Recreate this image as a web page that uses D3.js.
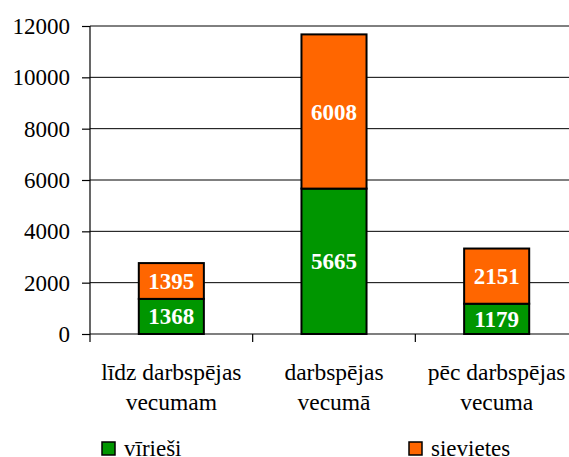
<!DOCTYPE html>
<html>
<head>
<meta charset="utf-8">
<script src="https://cdn.jsdelivr.net/npm/d3@7"></script>
<style>
  html, body { margin: 0; padding: 0; background: #fff; }
  svg { display: block; overflow: hidden; }
</style>
</head>
<body>
<svg id="chart" width="569" height="457"></svg>
<script>
// Categories (each label split into two lines) and the two stacked series.
var categories = ['līdz darbspējas vecumam', 'darbspējas vecumā', 'pēc darbspējas vecuma'];
var categoryLines = [['līdz darbspējas', 'vecumam'], ['darbspējas', 'vecumā'], ['pēc darbspējas', 'vecuma']];
var seriesNames = ['vīrieši', 'sievietes'];
var men = [1368, 5665, 1179];
var women = [1395, 6008, 2151];
var yTicks = [0, 2000, 4000, 6000, 8000, 10000, 12000];
var seriesColors = ['#009600', '#ff6600'];

var serif = '"Liberation Serif", "Times New Roman", serif';
var svg = d3.select('#chart').style('font-family', serif);
var plotLeft = 90, plotRight = 578, plotTop = 26, plotBottom = 334;

var x = d3.scaleBand()
  .domain(categories)
  .range([plotLeft, plotRight])
  .paddingInner(0.6)
  .paddingOuter(0.3);

var y = d3.scaleLinear()
  .domain([0, 12000])
  .range([plotBottom, plotTop]);

// Gridlines.
svg.append('g')
  .selectAll('line')
  .data(yTicks.slice(1))
  .enter().append('line')
    .attr('x1', plotLeft).attr('x2', plotRight)
    .attr('y1', function(d) { return y(d); })
    .attr('y2', function(d) { return y(d); })
    .attr('stroke', '#000').attr('stroke-width', 1);

// Stack the data.
var table = categories.map(function(c, i) {
  return { cat: c, 'vīrieši': men[i], 'sievietes': women[i] };
});
var stacked = d3.stack().keys(seriesNames)(table);

var layers = svg.append('g')
  .selectAll('g')
  .data(stacked)
  .enter().append('g')
    .attr('fill', function(d, i) { return seriesColors[i]; });

layers.selectAll('rect')
  .data(function(d) { return d; })
  .enter().append('rect')
    .attr('x', function(d) { return x(d.data.cat); })
    .attr('width', x.bandwidth())
    .attr('y', function(d) { return y(d[1]); })
    .attr('height', function(d) { return y(d[0]) - y(d[1]); })
    .attr('stroke', '#000')
    .attr('stroke-width', 2);

// Value labels inside each segment.
layers.selectAll('text')
  .data(function(d) { return d; })
  .enter().append('text')
    .attr('x', function(d) { return x(d.data.cat) + x.bandwidth() / 2; })
    .attr('y', function(d) { return (y(d[0]) + y(d[1])) / 2; })
    .attr('dy', '0.35em')
    .attr('text-anchor', 'middle')
    .attr('fill', '#fff')
    .attr('font-weight', 'bold')
    .attr('font-size', 23)
    .style('font-family', serif)
    .text(function(d) { return d[1] - d[0]; });

// Y axis.
var yAxis = svg.append('g')
  .attr('transform', 'translate(' + plotLeft + ',0)')
  .call(d3.axisLeft(y).tickValues(yTicks).tickSize(8).tickPadding(12).tickFormat(d3.format('d')));
yAxis.attr('font-family', null).attr('font-size', null);
yAxis.selectAll('line, path').attr('stroke', '#000').attr('stroke-width', 1.2);
yAxis.select('.domain').attr('d', 'M0,' + plotBottom + 'V' + plotTop);
yAxis.selectAll('text')
  .style('font-family', serif)
  .attr('font-size', 23)
  .attr('fill', '#000');

// X axis: baseline and category separators.
var seps = d3.range(categories.length + 1).map(function(i) {
  return plotLeft + i * (plotRight - plotLeft) / categories.length;
});
svg.append('line')
  .attr('x1', plotLeft).attr('x2', plotRight)
  .attr('y1', plotBottom).attr('y2', plotBottom)
  .attr('stroke', '#000').attr('stroke-width', 1.2);
svg.append('g')
  .selectAll('line')
  .data(seps)
  .enter().append('line')
    .attr('x1', function(d) { return d; }).attr('x2', function(d) { return d; })
    .attr('y1', plotBottom).attr('y2', plotBottom + 8)
    .attr('stroke', '#000').attr('stroke-width', 1.2);

// Category labels.
svg.append('g')
  .selectAll('text')
  .data(categories)
  .enter().append('text')
    .attr('text-anchor', 'middle')
    .attr('font-size', 23.5)
    .style('font-family', serif)
    .attr('fill', '#000')
    .each(function(d, i) {
      var t = d3.select(this);
      categoryLines[i].forEach(function(line, j) {
        t.append('tspan')
          .attr('x', x(d) + x.bandwidth() / 2)
          .attr('y', 380 + j * 30)
          .text(line);
      });
    });

// Legend.
var legendX = [102, 409];
var legend = svg.append('g')
  .selectAll('g')
  .data(seriesNames)
  .enter().append('g')
    .attr('transform', function(d, i) { return 'translate(' + legendX[i] + ',442)'; });
legend.append('rect')
  .attr('width', 13).attr('height', 13)
  .attr('fill', function(d, i) { return seriesColors[i]; })
  .attr('stroke', '#000').attr('stroke-width', 1.5);
legend.append('text')
  .attr('x', 22).attr('y', 14)
  .attr('font-size', 23)
  .style('font-family', serif)
  .attr('fill', '#000')
  .text(function(d) { return d; });
</script>
</body>
</html>
